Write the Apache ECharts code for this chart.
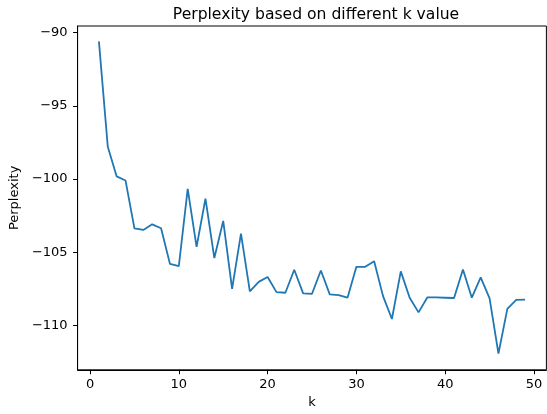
<!DOCTYPE html>
<html>
<head>
<meta charset="utf-8">
<script src="https://cdn.jsdelivr.net/npm/echarts@6/dist/echarts.min.js"></script>
<style>html,body{margin:0;padding:0;background:#fff;}#c{width:547px;height:414px;}</style>
</head>
<body>
<div id="c"></div>
<script>
const kValues = [1,2,3,4,5,6,7,8,9,10,11,12,13,14,15,16,17,18,19,20,21,22,23,24,25,26,27,28,29,30,31,32,33,34,35,36,37,38,39,40,41,42,43,44,45,46,47,48,49];
const perplexity = [-90.6,-97.8,-99.82,-100.1,-103.36,-103.47,-103.09,-103.36,-105.79,-105.95,
  -100.67,-104.63,-101.34,-105.39,-102.86,-107.49,-103.73,-107.67,-107.02,-106.68,
  -107.72,-107.76,-106.19,-107.8,-107.83,-106.24,-107.87,-107.92,-108.1,-105.99,
  -105.99,-105.61,-107.99,-109.55,-106.3,-108.1,-109.1,-108.07,-108.08,-108.1,
  -108.12,-106.17,-108.1,-106.71,-108.14,-111.92,-108.86,-108.25,-108.23];
const xTicks = [0,10,20,30,40,50];
const yTicks = [-110,-105,-100,-95,-90];

const fmt = v => String(v).replace('-', '\u2212');
const chart = echarts.init(document.getElementById('c'), null, {renderer:'canvas'});
const font = 'DejaVu Sans';
chart.setOption({
  animation: false,
  backgroundColor: '#fff',
  title: {
    text: 'Perplexity based on different k value',
    left: 311, top: 2, textAlign: 'center',
    textStyle: {fontFamily: font, fontSize: 15.6, fontWeight: 'normal', color: '#000'}
  },
  grid: {left: 77.6, right: 0.6, top: 26, bottom: 38.3, show: true, borderColor: '#000', borderWidth: 1, backgroundColor: 'transparent'},
  xAxis: {
    type: 'value', min: -1.4, max: 51.4,
    name: 'k', nameLocation: 'middle', nameGap: 23.3,
    nameTextStyle: {fontFamily: font, fontSize: 13, color: '#000'},
    axisLine: {show: true, onZero: false, lineStyle: {color: '#000', width: 1}},
    axisTick: {show: true, length: 4.5, customValues: xTicks, lineStyle: {color: '#000'}},
    axisLabel: {customValues: xTicks, margin: 8.3, fontFamily: font, fontSize: 13, color: '#000', formatter: fmt},
    splitLine: {show: false}
  },
  yAxis: {
    type: 'value', min: -113.02, max: -89.55,
    name: 'Perplexity', nameLocation: 'middle', nameGap: 50.6, nameRotate: 90,
    nameTextStyle: {fontFamily: font, fontSize: 13, color: '#000'},
    axisLine: {show: true, onZero: false, lineStyle: {color: '#000', width: 1}},
    axisTick: {show: true, length: 4.5, customValues: yTicks, lineStyle: {color: '#000'}},
    axisLabel: {customValues: yTicks, margin: 10, fontFamily: font, fontSize: 13, color: '#000', formatter: fmt},
    splitLine: {show: false}
  },
  series: [{
    type: 'line',
    data: kValues.map((k, i) => [k, perplexity[i]]),
    symbol: 'none',
    lineStyle: {color: '#1f77b4', width: 1.8},
    itemStyle: {color: '#1f77b4'}
  }]
});
</script>
</body>
</html>
